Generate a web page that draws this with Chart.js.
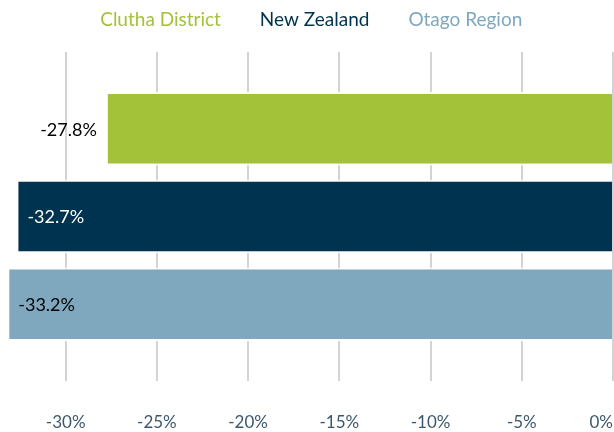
<!DOCTYPE html>
<html><head><meta charset="utf-8">
<script src="https://cdn.jsdelivr.net/npm/chart.js@4"></script>
<style>html,body{margin:0;padding:0;background:#fff;}#wrap{width:614px;height:432px;position:relative;}</style>
</head><body><div id="wrap"><canvas id="c"></canvas></div>
<script>
const categories = ['Change'];
const seriesNames = ['Clutha District', 'New Zealand', 'Otago Region'];
const cluthaValues = [-27.8];
const newZealandValues = [-32.7];
const otagoValues = [-33.2];
const seriesColors = ['#a3c239', '#00334f', '#7fa8bf'];
const dataLabelColors = ['#000000', '#ffffff', '#000000'];
const xTickValues = [-30, -25, -20, -15, -10, -5, 0];
const xMin = -33.6;
const xMax = 0;

const FONT = 'Lato';

const legendMargin = {
  id: 'legendMargin',
  beforeInit(chart) {
    const fit = chart.legend.fit;
    chart.legend.fit = function () { fit.call(this); this.height += 13; };
  }
};

const dataLabels = {
  id: 'dataLabels',
  afterDatasetsDraw(chart) {
    const ctx = chart.ctx;
    ctx.save();
    ctx.font = '18px ' + FONT;
    ctx.textBaseline = 'middle';
    chart.data.datasets.forEach((ds, i) => {
      const meta = chart.getDatasetMeta(i);
      meta.data.forEach((el, j) => {
        const txt = ds.data[j].toFixed(1) + '%';
        ctx.fillStyle = dataLabelColors[i];
        if (i === 0) {
          ctx.textAlign = 'right';
          ctx.fillText(txt, el.x - 9, el.y + 1);
        } else {
          ctx.textAlign = 'left';
          ctx.fillText(txt, el.x + 11, el.y + 1);
        }
      });
    });
    ctx.restore();
  }
};

const seriesData = [cluthaValues, newZealandValues, otagoValues];

new Chart(document.getElementById('c'), {
  type: 'bar',
  data: {
    labels: categories,
    datasets: seriesNames.map((name, i) => ({
      label: name,
      data: seriesData[i],
      backgroundColor: seriesColors[i],
      borderColor: '#ffffff',
      borderWidth: 2,
      barPercentage: 0.84,
      categoryPercentage: 0.8
    }))
  },
  options: {
    indexAxis: 'y',
    responsive: true,
    maintainAspectRatio: false,
    animation: false,
    devicePixelRatio: 1,
    layout: { padding: { top: 0, left: 0, right: 1, bottom: 0 } },
    plugins: {
      tooltip: { enabled: false },
      legend: {
        position: 'top',
        align: 'center',
        labels: {
          font: { family: FONT, size: 19 },
          padding: 10,
          boxWidth: 0,
          generateLabels(chart) {
            return chart.data.datasets.map((ds, i) => ({
              text: ds.label + (i < chart.data.datasets.length - 1 ? '    ' : ''),
              fillStyle: 'rgba(0,0,0,0)',
              strokeStyle: 'rgba(0,0,0,0)',
              lineWidth: 0,
              fontColor: seriesColors[i],
              datasetIndex: i,
              hidden: false
            }));
          }
        }
      }
    },
    scales: {
      x: {
        min: xMin,
        max: xMax,
        afterBuildTicks(scale) {
          scale.ticks = [{ value: xMin }].concat(xTickValues.map(v => ({ value: v })));
        },
        afterFit(scale) { scale.paddingLeft = 0; scale.paddingRight = 0; scale.height = 51; },
        border: { display: false },
        grid: {
          drawTicks: false,
          lineWidth: 2,
          color: (c) => (c.tick && c.tick.value < xTickValues[0]) ? 'rgba(0,0,0,0)' : '#d0d4d8'
        },
        ticks: {
          align: 'inner',
          padding: 31,
          color: '#3d586b',
          font: { family: FONT, size: 17 },
          autoSkip: false,
          maxRotation: 0,
          callback: (v) => (v < xTickValues[0] ? '' : v + '%')
        }
      },
      y: { display: false, grid: { display: false } }
    }
  },
  plugins: [legendMargin, dataLabels]
});
</script>
</body></html>
